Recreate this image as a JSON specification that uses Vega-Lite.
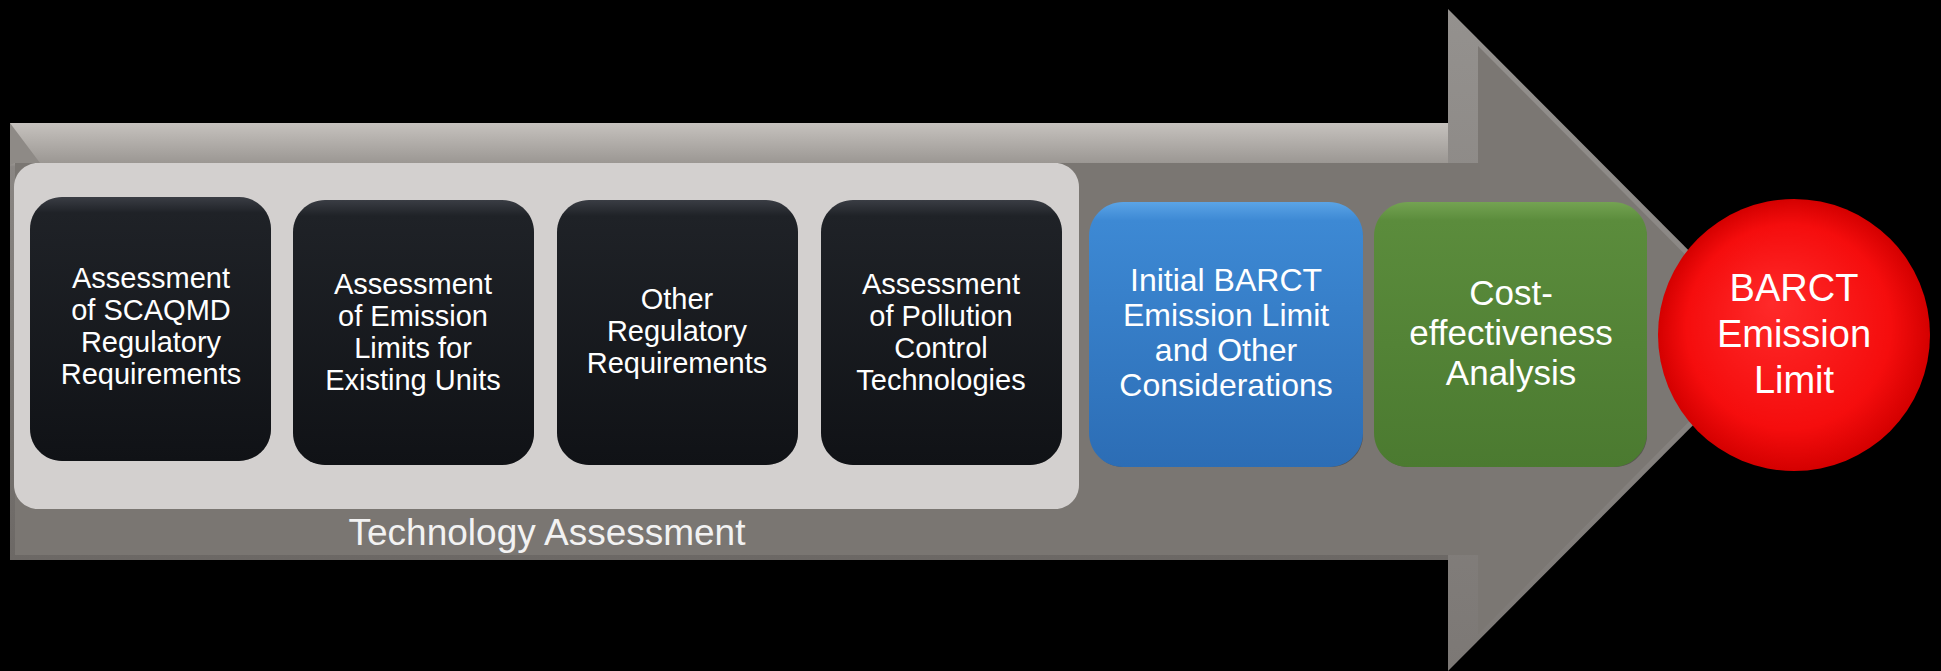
{
  "$schema": "https://vega.github.io/schema/vega-lite/v6.json",
  "width": 1941,
  "height": 671,
  "autosize": "none",
  "padding": 0,
  "background": "#000000",
  "config": {"view": {"stroke": null}, "font": "Liberation Sans"},
  "datasets": {
    "body": [
      {"part": "outer", "x": 10, "x2": 1449, "y": 123, "y2": 560},
      {"part": "inner", "x": 15, "x2": 1480, "y": 163, "y2": 555}
    ],
    "head": [
      {"part": "outer", "x": 1448, "y": 340},
      {"part": "inner", "x": 1478, "y": 340}
    ],
    "corner": [
      {"x": 10, "y": 123}
    ],
    "panel": [
      {"label": "Technology Assessment", "x": 14, "x2": 1079, "y": 163, "y2": 509, "cx": 547, "cy": 534}
    ],
    "boxes": [
      {"label": "Assessment\nof SCAQMD\nRegulatory\nRequirements", "group": "tech", "x": 30, "x2": 271, "y": 197, "y2": 461, "cx": 151, "cy": 279},
      {"label": "Assessment\nof Emission\nLimits for\nExisting Units", "group": "tech", "x": 293, "x2": 534, "y": 200, "y2": 465, "cx": 413, "cy": 285},
      {"label": "Other\nRegulatory\nRequirements", "group": "tech", "x": 557, "x2": 798, "y": 200, "y2": 465, "cx": 677, "cy": 300},
      {"label": "Assessment\nof Pollution\nControl\nTechnologies", "group": "tech", "x": 821, "x2": 1062, "y": 200, "y2": 465, "cx": 941, "cy": 285},
      {"label": "Initial BARCT\nEmission Limit\nand Other\nConsiderations", "group": "initial", "x": 1089, "x2": 1363, "y": 202, "y2": 467, "cx": 1226, "cy": 281},
      {"label": "Cost-\neffectiveness\nAnalysis", "group": "cost", "x": 1374, "x2": 1647, "y": 202, "y2": 467, "cx": 1511, "cy": 294}
    ],
    "result": [
      {"label": "BARCT\nEmission\nLimit", "x": 1794, "y": 335, "ty": 290}
    ]
  },
  "encoding": {
    "x": {"field": "x", "type": "quantitative", "axis": null, "scale": {"domain": [0, 1941], "nice": false, "zero": false}},
    "y": {"field": "y", "type": "quantitative", "axis": null, "scale": {"domain": [0, 671], "reverse": true, "nice": false, "zero": false}}
  },
  "layer": [
    {
      "data": {"name": "body"},
      "transform": [{"filter": "datum.part === 'outer'"}],
      "mark": {"type": "rect", "fill": {"gradient": "linear", "x1": 0, "y1": 0, "x2": 0, "y2": 1, "stops": [
        {"offset": 0, "color": "#c6c2be"},
        {"offset": 0.092, "color": "#9b9793"},
        {"offset": 0.1, "color": "#8a8683"},
        {"offset": 1, "color": "#6c6865"}
      ]}},
      "encoding": {"x2": {"field": "x2"}, "y2": {"field": "y2"}}
    },
    {
      "data": {"name": "corner"},
      "mark": {"type": "point", "shape": "M0,0L0.75,1L0.125,1L0,1.05Z", "filled": true, "size": 6400, "opacity": 1, "strokeWidth": 0, "fill": "#8e8a86"},
      "encoding": {}
    },
    {
      "data": {"name": "head"},
      "transform": [{"filter": "datum.part === 'outer'"}],
      "mark": {"type": "point", "shape": "M0,-1L0.997,0L0,1Z", "filled": true, "size": 438244, "opacity": 1, "strokeWidth": 0, "fill": {"gradient": "linear", "x1": 0, "y1": 0, "x2": 0, "y2": 1, "stops": [
        {"offset": 0, "color": "#94918e"},
        {"offset": 1, "color": "#7c7875"}
      ]}},
      "encoding": {}
    },
    {
      "data": {"name": "head"},
      "transform": [{"filter": "datum.part === 'inner'"}],
      "mark": {"type": "point", "shape": "M0,-1L0.993,0L0,1Z", "filled": true, "size": 345744, "opacity": 1, "strokeWidth": 0, "fill": "#7b7773"},
      "encoding": {}
    },
    {
      "data": {"name": "body"},
      "transform": [{"filter": "datum.part === 'inner'"}],
      "mark": {"type": "rect", "fill": "#7a7672"},
      "encoding": {"x2": {"field": "x2"}, "y2": {"field": "y2"}}
    },
    {
      "data": {"name": "panel"},
      "mark": {"type": "rect", "fill": "#d3d0cf", "cornerRadius": 24},
      "encoding": {"x2": {"field": "x2"}, "y2": {"field": "y2"}}
    },
    {
      "data": {"name": "panel"},
      "mark": {"type": "text", "fill": "#f2f2f2", "fontSize": 37, "align": "center", "baseline": "middle"},
      "encoding": {
        "x": {"field": "cx", "type": "quantitative"},
        "y": {"field": "cy", "type": "quantitative"},
        "text": {"field": "label"}
      }
    },
    {
      "data": {"name": "boxes"},
      "mark": {"type": "rect", "fill": "#000000", "opacity": 0.3, "cornerRadius": 32, "yOffset": 5, "xOffset": 2},
      "encoding": {"x2": {"field": "x2"}, "y2": {"field": "y2"}}
    },
    {
      "data": {"name": "boxes"},
      "transform": [{"filter": "datum.group === 'tech'"}],
      "mark": {"type": "rect", "cornerRadius": 32, "fill": {"gradient": "linear", "x1": 0, "y1": 0, "x2": 0, "y2": 1, "stops": [
        {"offset": 0, "color": "#3a3d44"},
        {"offset": 0.06, "color": "#1f2227"},
        {"offset": 1, "color": "#101216"}
      ]}},
      "encoding": {"x2": {"field": "x2"}, "y2": {"field": "y2"}}
    },
    {
      "data": {"name": "boxes"},
      "transform": [{"filter": "datum.group === 'initial'"}],
      "mark": {"type": "rect", "cornerRadius": 34, "fill": {"gradient": "linear", "x1": 0, "y1": 0, "x2": 0, "y2": 1, "stops": [
        {"offset": 0, "color": "#5ba4e6"},
        {"offset": 0.07, "color": "#3d89d4"},
        {"offset": 1, "color": "#2c6db5"}
      ]}},
      "encoding": {"x2": {"field": "x2"}, "y2": {"field": "y2"}}
    },
    {
      "data": {"name": "boxes"},
      "transform": [{"filter": "datum.group === 'cost'"}],
      "mark": {"type": "rect", "cornerRadius": 34, "fill": {"gradient": "linear", "x1": 0, "y1": 0, "x2": 0, "y2": 1, "stops": [
        {"offset": 0, "color": "#74a352"},
        {"offset": 0.07, "color": "#5b8c3c"},
        {"offset": 1, "color": "#4b7a30"}
      ]}},
      "encoding": {"x2": {"field": "x2"}, "y2": {"field": "y2"}}
    },
    {
      "data": {"name": "boxes"},
      "transform": [{"filter": "datum.group === 'tech'"}],
      "mark": {"type": "text", "fill": "#ffffff", "fontSize": 29, "lineHeight": 32, "align": "center", "baseline": "middle", "lineBreak": "\n"},
      "encoding": {
        "x": {"field": "cx", "type": "quantitative"},
        "y": {"field": "cy", "type": "quantitative"},
        "text": {"field": "label"}
      }
    },
    {
      "data": {"name": "boxes"},
      "transform": [{"filter": "datum.group === 'initial'"}],
      "mark": {"type": "text", "fill": "#ffffff", "fontSize": 32, "lineHeight": 35, "align": "center", "baseline": "middle", "lineBreak": "\n"},
      "encoding": {
        "x": {"field": "cx", "type": "quantitative"},
        "y": {"field": "cy", "type": "quantitative"},
        "text": {"field": "label"}
      }
    },
    {
      "data": {"name": "boxes"},
      "transform": [{"filter": "datum.group === 'cost'"}],
      "mark": {"type": "text", "fill": "#ffffff", "fontSize": 35, "lineHeight": 40, "align": "center", "baseline": "middle", "lineBreak": "\n"},
      "encoding": {
        "x": {"field": "cx", "type": "quantitative"},
        "y": {"field": "cy", "type": "quantitative"},
        "text": {"field": "label"}
      }
    },
    {
      "data": {"name": "result"},
      "mark": {"type": "point", "shape": "circle", "filled": true, "size": 74000, "opacity": 1, "strokeWidth": 0,
        "fill": {"gradient": "radial", "x1": 0.42, "y1": 0.38, "r1": 0, "x2": 0.5, "y2": 0.5, "r2": 0.5, "stops": [
          {"offset": 0, "color": "#ff2a2a"},
          {"offset": 0.75, "color": "#f50d0d"},
          {"offset": 1, "color": "#d40000"}
        ]}},
      "encoding": {}
    },
    {
      "data": {"name": "result"},
      "mark": {"type": "text", "fill": "#ffffff", "fontSize": 38, "lineHeight": 46, "align": "center", "baseline": "middle", "lineBreak": "\n"},
      "encoding": {
        "y": {"field": "ty", "type": "quantitative"},
        "text": {"field": "label"}
      }
    }
  ]
}
